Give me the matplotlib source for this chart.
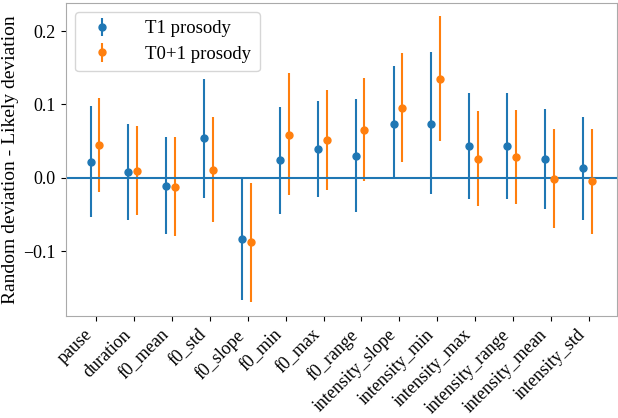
import numpy as np
import matplotlib
matplotlib.use("Agg")
import matplotlib.pyplot as plt

plt.rcParams['font.family'] = ['Liberation Serif', 'DejaVu Serif']

features = ["pause", "duration", "f0_mean", "f0_std", "f0_slope", "f0_min", "f0_max",
            "f0_range", "intensity_slope", "intensity_min", "intensity_max",
            "intensity_range", "intensity_mean", "intensity_std"]

t1_mean = [0.021, 0.008, -0.011, 0.054, -0.084, 0.024, 0.039, 0.030, 0.074, 0.073,
           0.044, 0.044, 0.025, 0.014]
t1_hi = [0.098, 0.073, 0.055, 0.135, -0.001, 0.096, 0.105, 0.107, 0.152, 0.171,
         0.116, 0.116, 0.094, 0.083]
t1_lo = [-0.054, -0.057, -0.076, -0.027, -0.166, -0.049, -0.026, -0.046, -0.002, -0.022,
         -0.029, -0.029, -0.043, -0.057]

t01_mean = [0.045, 0.009, -0.013, 0.011, -0.088, 0.059, 0.051, 0.065, 0.095, 0.135,
            0.026, 0.028, -0.001, -0.005]
t01_hi = [0.109, 0.070, 0.055, 0.083, -0.007, 0.143, 0.120, 0.136, 0.170, 0.221,
          0.091, 0.092, 0.067, 0.067]
t01_lo = [-0.019, -0.051, -0.080, -0.060, -0.169, -0.024, -0.016, -0.004, 0.022, 0.050,
          -0.039, -0.036, -0.068, -0.077]

x = np.arange(len(features))
t1_m = np.array(t1_mean); t01_m = np.array(t01_mean)
t1_err = [t1_m - np.array(t1_lo), np.array(t1_hi) - t1_m]
t01_err = [t01_m - np.array(t01_lo), np.array(t01_hi) - t01_m]

fig = plt.figure(figsize=(6.18, 4.18), dpi=100)
ax = fig.add_axes([0.106, 0.243, 0.892, 0.751])

ax.errorbar(x - 0.15, t1_m, yerr=t1_err, fmt='o', color='C0', markersize=5,
            elinewidth=1.5, label='T1 prosody')
ax.errorbar(x + 0.08, t01_m, yerr=t01_err, fmt='o', color='C1', markersize=5,
            elinewidth=1.5, label='T0+1 prosody')
ax.axhline(0, color='C0', linewidth=1.5)

ax.set_ylim(-0.189, 0.239)
ax.set_yticks([-0.1, 0.0, 0.1, 0.2])
ax.set_yticklabels(['\u22120.1', '0.0', '0.1', '0.2'])
ax.set_xticks(x)
ax.set_xticklabels(features, rotation=45, ha='right')
ax.tick_params(labelsize=13)
ax.set_ylabel('Random deviation - Likely deviation', fontsize=14, labelpad=3)
for s in ax.spines.values():
    s.set_color('#aaaaaa')
ax.legend(loc='upper left', fontsize=13.5, borderpad=0.45, handletextpad=1.3,
          labelspacing=0.45)

fig.savefig('out.png', dpi=100)
